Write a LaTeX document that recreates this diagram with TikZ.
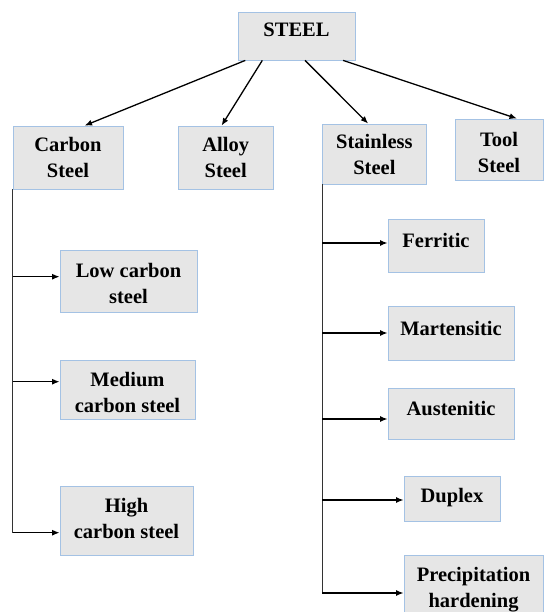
\documentclass[tikz,border=0pt]{standalone}
\usepackage{fontspec}
\setmainfont{Liberation Serif}[BoldFont={Liberation Serif Bold}]
\newfontfamily\tnrbold{Liberation Serif Bold}
\usetikzlibrary{arrows.meta}
\definecolor{boxfill}{HTML}{E6E6E6}
\definecolor{boxline}{HTML}{A4C2E4}
\newcommand{\twol}[2]{\begin{tabular}[t]{@{}c@{}}#1\\#2\end{tabular}}
\begin{document}
\begin{tikzpicture}[x=1pt,y=-1pt,
  box/.style={draw=boxline, fill=boxfill, line width=0.8pt, inner sep=0pt},
  txt/.style={inner sep=0pt, font=\tnrbold\fontsize{20.5}{26}\selectfont, anchor=base},
  arr/.style={line width=1.3pt, draw=black, -{Latex[length=7.5pt,width=6pt]}},
  trunk/.style={line width=1.3pt, draw=black!80}]
\useasboundingbox (0,0) rectangle (544,612);
\clip (0,0) rectangle (544,612);
% boxes
\node[box, minimum width=117pt, minimum height=48pt] (steel) at (296.5,36) {};
\node[box, minimum width=110pt, minimum height=63pt] (carbon) at (68,157.5) {};
\node[box, minimum width=95.4pt, minimum height=63pt] (alloy) at (225.7,157.5) {};
\node[box, minimum width=103.3pt, minimum height=60pt] (stainless) at (374.4,154) {};
\node[box, minimum width=88pt, minimum height=61pt] (tool) at (499,149.5) {};
\node[box, minimum width=137pt, minimum height=62pt] (low) at (128.5,281) {};
\node[box, minimum width=135pt, minimum height=59pt] (medium) at (127.5,389.5) {};
\node[box, minimum width=133pt, minimum height=69pt] (high) at (126.5,520.5) {};
\node[box, minimum width=96pt, minimum height=53pt] (ferritic) at (436,245.5) {};
\node[box, minimum width=126pt, minimum height=54pt] (martensitic) at (451,333) {};
\node[box, minimum width=126pt, minimum height=51pt] (austenitic) at (451,413.5) {};
\node[box, minimum width=96pt, minimum height=45pt] (duplex) at (452,498.5) {};
\node[box, minimum width=139pt, minimum height=85pt] (precip) at (473.5,597.5) {};
% texts
\node[txt] (tsteel) at (296.5,37) {STEEL};
\node[txt] (tcarbon) at (68,151.5) {\twol{Carbon}{Steel}};
\node[txt] (talloy) at (225.7,151.5) {\twol{Alloy}{Steel}};
\node[txt] (tstain) at (374.4,149) {\twol{Stainless}{Steel}};
\node[txt] (ttool) at (499,146.5) {\twol{Tool}{Steel}};
\node[txt] (tlow) at (128.5,277) {\twol{Low carbon}{steel}};
\node[txt] (tmed) at (127.5,386) {\twol{Medium}{carbon steel}};
\node[txt] (thigh) at (126.5,512.5) {\twol{High}{carbon steel}};
\node[txt] (tfer) at (436,247) {Ferritic};
\node[txt] (tmart) at (451,335) {Martensitic};
\node[txt] (taus) at (451,415) {Austenitic};
\node[txt] (tdup) at (452,502) {Duplex};
\node[txt] (tpre) at (473.5,581) {\twol{Precipitation}{hardening}};
% top arrows
\draw[arr] ([xshift=7.7pt]steel.south west) -- ([xshift=72pt]carbon.north west);
\draw[arr] ([xshift=24.7pt]steel.south west) -- ([xshift=44pt]alloy.north west);
\draw[arr] ([xshift=67.4pt]steel.south west) -- ([xshift=45.8pt]stainless.north west);
\draw[arr] ([xshift=105.5pt]steel.south west) -- ([xshift=62.4pt]tool.north west);
% entry points
\coordinate (lowin) at ([yshift=4.3pt]low.west);
\coordinate (medin) at ([yshift=7.8pt]medium.west);
\coordinate (highin) at ([yshift=-12.2pt]high.west);
\coordinate (ferin) at ([yshift=2.5pt]ferritic.west);
\coordinate (martin) at (martensitic.west);
\coordinate (ausin) at ([yshift=-5.5pt]austenitic.west);
\coordinate (dupin) at ([yshift=-1.5pt]duplex.west);
\coordinate (prein) at ([yshift=4.5pt]precip.west);
% trunks
\draw[trunk] (carbon.south west) -- (carbon.south west |- highin);
\draw[trunk] (stainless.south west) -- (stainless.south west |- prein);
% branches
\draw[arr] (carbon.south west |- lowin) -- (lowin);
\draw[arr] (carbon.south west |- medin) -- (medin);
\draw[arr] (carbon.south west |- highin) -- (highin);
\draw[arr] (stainless.south west |- ferin) -- (ferin);
\draw[arr] (stainless.south west |- martin) -- (martin);
\draw[arr] (stainless.south west |- ausin) -- (ausin);
\draw[arr] (stainless.south west |- dupin) -- (dupin);
\draw[arr] (stainless.south west |- prein) -- (prein);
\end{tikzpicture}
\end{document}
